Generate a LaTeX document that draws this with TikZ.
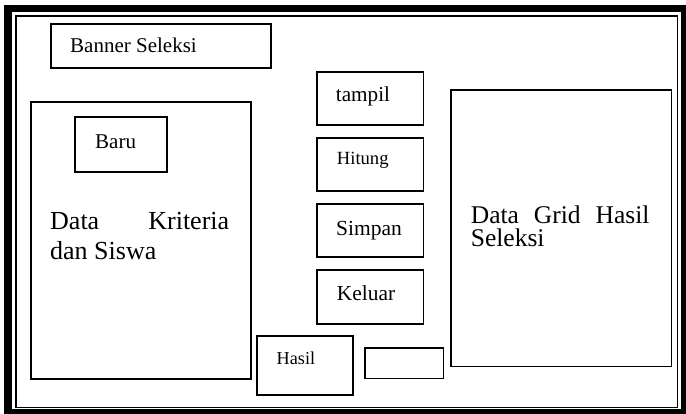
\documentclass[tikz,border=0pt]{standalone}
\usepackage{fontspec}
\setmainfont{Liberation Serif}
\begin{document}
\begin{tikzpicture}[x=1pt,y=-1pt,
  box/.style={draw,line width=1.6pt,inner sep=0pt,anchor=north west},
  lbl/.style={inner sep=0pt,anchor=base west},
  para/.style={inner sep=0pt,anchor=base west,align=justify}]
\useasboundingbox (0,0) rectangle (686,414);
\clip (0,0) rectangle (686,414);
% frame
\draw[line width=7.6pt] (8,8.5) rectangle (684.8,412.8);
\draw[line width=1.6pt] (15.8,16.2) rectangle (677.6,407.6);
% banner
\node[box,minimum width=220pt,minimum height=44.5pt] (banner) at (50,23) {};
\node[lbl,font=\fontsize{21}{25}\selectfont] (bannert) at (70,53) {Banner Seleksi};
% left data box
\node[box,minimum width=220pt,minimum height=276.5pt] (krit) at (30,101.5) {};
\node[para,text width=179pt,font=\fontsize{26}{30.7}\selectfont] (kritt) at (50,229.3) {Data Kriteria\linebreak dan Siswa};
\node[box,minimum width=92pt,minimum height=54.5pt] (baru) at (74,116.5) {};
\node[lbl,font=\fontsize{21}{25}\selectfont] (barut) at (95,148.3) {Baru};
% buttons
\node[box,minimum width=106.5pt,minimum height=53.5pt] (tampil) at (316,71) {};
\node[lbl,font=\fontsize{21.2}{25}\selectfont] (tampilt) at (335.7,101.7) {tampil};
\node[box,minimum width=106.5pt,minimum height=52.5pt] (hitung) at (316,137.5) {};
\node[lbl,font=\fontsize{18.6}{22}\selectfont] (hitungt) at (336.7,164.3) {Hitung};
\node[box,minimum width=106.5pt,minimum height=53pt] (simpan) at (316,203.5) {};
\node[lbl,font=\fontsize{21.5}{25}\selectfont] (simpant) at (336,235.7) {Simpan};
\node[box,minimum width=106.5pt,minimum height=54.3pt] (keluar) at (316,269) {};
\node[lbl,font=\fontsize{21.4}{25}\selectfont] (keluart) at (336.7,300.7) {Keluar};
% hasil
\node[box,minimum width=96pt,minimum height=59pt] (hasil) at (256,335) {};
\node[lbl,font=\fontsize{18.2}{22}\selectfont] (hasilt) at (276.5,364.3) {Hasil};
\node[box,minimum width=78.5pt,minimum height=30.4pt] (empty) at (364,347.3) {};
% grid
\node[box,minimum width=220.2pt,minimum height=276.2pt] (grid) at (450.3,89.3) {};
\node[para,text width=178.6pt,font=\fontsize{25.5}{22.7}\selectfont] (gridt) at (470.7,224) {Data Grid Hasil\linebreak Seleksi};
\end{tikzpicture}
\end{document}
